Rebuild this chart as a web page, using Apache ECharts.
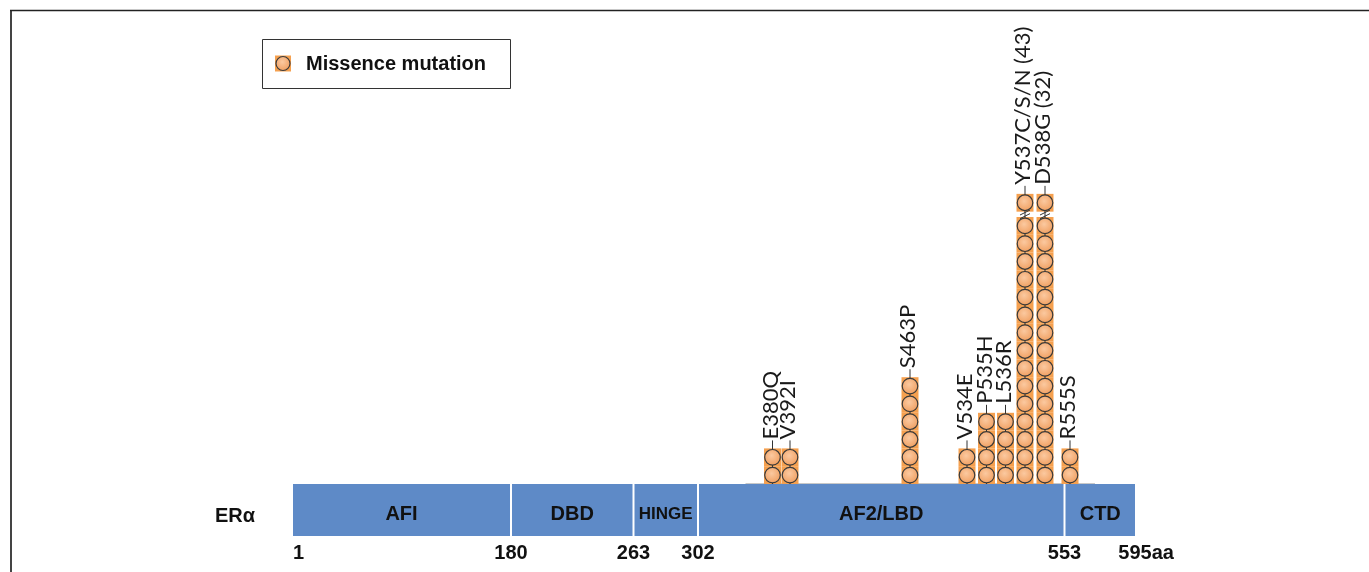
<!DOCTYPE html>
<html>
<head>
<meta charset="utf-8">
<script src="https://cdn.jsdelivr.net/npm/echarts@6/dist/echarts.min.js"></script>
<style>
html,body{margin:0;padding:0;background:#fff;}
#c{width:1369px;height:572px;}
</style>
</head>
<body>
<div id="c"></div>
<script>
// ---- data ----
const proteinName = 'ERα';
const domainNames = ['AFI', 'DBD', 'HINGE', 'AF2/LBD', 'CTD'];
const domainAA = [1, 180, 263, 302, 553, 595];           // boundary residue numbers
const domainPos = [0, 218, 340.5, 405, 771.5, 842];      // schematic (non-linear) drawing scale of the boundaries
const mutNames = ['E380Q', 'V392I', 'S463P', 'V534E', 'P535H', 'L536R', 'Y537C/S/N (43)', 'D538G (32)', 'R555S'];
const mutPos = [479.5, 497, 617, 674, 693.5, 712.5, 732, 752, 777]; // schematic positions
const mutCounts = [2, 2, 6, 2, 4, 4, 43, 32, 2];
const legendName = 'Missence mutation';
const maxStack = 16; // stacks above this are drawn broken

const SQ = '#F5A04F';
const CIRC = {type:'radial', x:0.45, y:0.4, r:0.7, colorStops:[{offset:0,color:'#FBC9A0'},{offset:1,color:'#EE9856'}]};
const STROKE = '#3a3a3a';

const chart = echarts.init(document.getElementById('c'), null, {renderer:'canvas'});

function mutRender(params, api) {
  const x = api.value(0), count = api.value(1), i = api.value(2);
  const base = api.coord([x, 0]);
  const u = api.size([0, 1])[1];
  const children = [];
  const broken = count > maxStack;
  const shown = broken ? maxStack - 1 : count;
  const centers = [];
  for (let k = 0; k < shown; k++) centers.push(base[1] - (k + 0.5) * u);
  let topCenter;
  if (broken) { topCenter = base[1] - 15.8 * u; centers.push(topCenter); }
  else topCenter = centers[centers.length - 1];
  const sqTop = topCenter - u / 2;
  const cx = base[0];
  centers.forEach(cy => children.push({type:'rect', shape:{x:cx-8.5, y:cy-u/2, width:17, height:u}, style:{fill:SQ}}));
  children.push({type:'line', shape:{x1:cx, y1:base[1], x2:cx, y2:sqTop-8}, style:{stroke:'#333', lineWidth:1}});
  if (broken) {
    const by = base[1] - 15.15 * u;
    [-1.8, 1.8].forEach(d => children.push({type:'line', shape:{x1:cx-5, y1:by+d+2.5, x2:cx+5, y2:by+d-2.5}, style:{stroke:'#333', lineWidth:1}}));
  }
  centers.forEach(cy => children.push({type:'circle', shape:{cx:cx, cy:cy, r:7.8}, style:{fill:CIRC, stroke:STROKE, lineWidth:1.2}}));
  children.push({type:'text', x:cx-2, y:sqTop-9, rotation:Math.PI/2,
    style:{text:mutNames[i], fill:'#1a1a1a', font:'22px Lato', align:'left', verticalAlign:'middle'}});
  return {type:'group', children};
}

function baseRender(params, api) {
  const l = api.coord([api.value(0), 0]);
  const r = api.coord([api.value(1), 0]);
  return {type:'line', shape:{x1:l[0], y1:l[1]-0.5, x2:r[0], y2:r[1]-0.5}, style:{stroke:'#c8c8c8', lineWidth:1}};
}

function domainRender(params, api) {
  const i = params.dataIndex;
  const s = api.value(0), e = api.value(1);
  const p0 = api.coord([s, 1]), p1 = api.coord([e, 0]);
  const x0 = p0[0] + (i > 0 ? 1 : 0), x1 = p1[0] - (i < domainNames.length - 1 ? 1 : 0);
  return {type:'group', children:[
    {type:'rect', shape:{x:x0, y:p0[1], width:x1-x0, height:p1[1]-p0[1]}, style:{fill:'#5E8AC7'}},
    {type:'text', x:(x0+x1)/2, y:(p0[1]+p1[1])/2+4, style:{text:domainNames[i], fill:'#111',
      font:'bold ' + (domainNames[i]==='HINGE' ? 17 : 20) + 'px "Liberation Sans", Arial', align:'center', verticalAlign:'middle'}}
  ]};
}

function tickRender(params, api) {
  const i = params.dataIndex;
  const p = api.coord([api.value(0), 0]);
  const n = domainAA.length;
  let text = String(domainAA[i]), align = 'center', x = p[0];
  if (i === 0) align = 'left';
  if (i === n - 1) { text = domainAA[i] + 'aa'; align = 'left'; x = p[0] - 16.7; }
  return {type:'text', x:x, y:p[1]+17, style:{text, fill:'#111', font:'bold 20px "Liberation Sans", Arial', align, verticalAlign:'middle'}};
}

const option = {
  animation:false,
  grid:[
    {left:293, right:234, top:39, bottom:88},
    {left:293, right:234, top:484, height:52}
  ],
  xAxis:[
    {gridIndex:0, type:'value', min:0, max:842, show:false},
    {gridIndex:1, type:'value', min:0, max:842, show:false}
  ],
  yAxis:[
    {gridIndex:0, type:'value', min:0, max:25, show:false},
    {gridIndex:1, type:'value', min:0, max:1, show:false}
  ],
  series:[
    {type:'custom', name:'base', xAxisIndex:0, yAxisIndex:0, renderItem:baseRender,
     data:[[Math.min(...mutPos)-27, Math.max(...mutPos)+25]], silent:true, z:1},
    {type:'custom', name:legendName, xAxisIndex:0, yAxisIndex:0, renderItem:mutRender,
     data:mutPos.map((x,i)=>[x, mutCounts[i], i]), clip:false, z:2},
    {type:'custom', name:'domains', xAxisIndex:1, yAxisIndex:1, renderItem:domainRender,
     data:domainNames.map((n,i)=>[domainPos[i], domainPos[i+1]]), z:3},
    {type:'custom', name:'ticks', xAxisIndex:1, yAxisIndex:1, renderItem:tickRender,
     data:domainPos.map(p=>[p]), clip:false, z:3}
  ],
  graphic:[
    {type:'line', shape:{x1:11, y1:10, x2:11, y2:572}, style:{stroke:'#444', lineWidth:2}},
    {type:'line', shape:{x1:10, y1:10.5, x2:1369, y2:10.5}, style:{stroke:'#222', lineWidth:1.5}},
    {type:'text', left:215, top:506, style:{text:proteinName, fill:'#111', font:'bold 20px "Liberation Sans", Arial'}},
    {type:'group', left:262, top:39, children:[
      {type:'rect', shape:{x:0.5, y:0.5, width:248, height:49}, style:{fill:'#fff', stroke:'#333', lineWidth:1}},
      {type:'rect', shape:{x:13, y:16.5, width:16, height:16}, style:{fill:SQ}},
      {type:'circle', shape:{cx:21, cy:24.5, r:7}, style:{fill:CIRC, stroke:STROKE, lineWidth:1.2}},
      {type:'text', x:44, y:25, style:{text:legendName, fill:'#111', font:'bold 20px "Liberation Sans", Arial', verticalAlign:'middle'}}
    ]}
  ]
};
chart.setOption(option);
</script>
</body>
</html>
